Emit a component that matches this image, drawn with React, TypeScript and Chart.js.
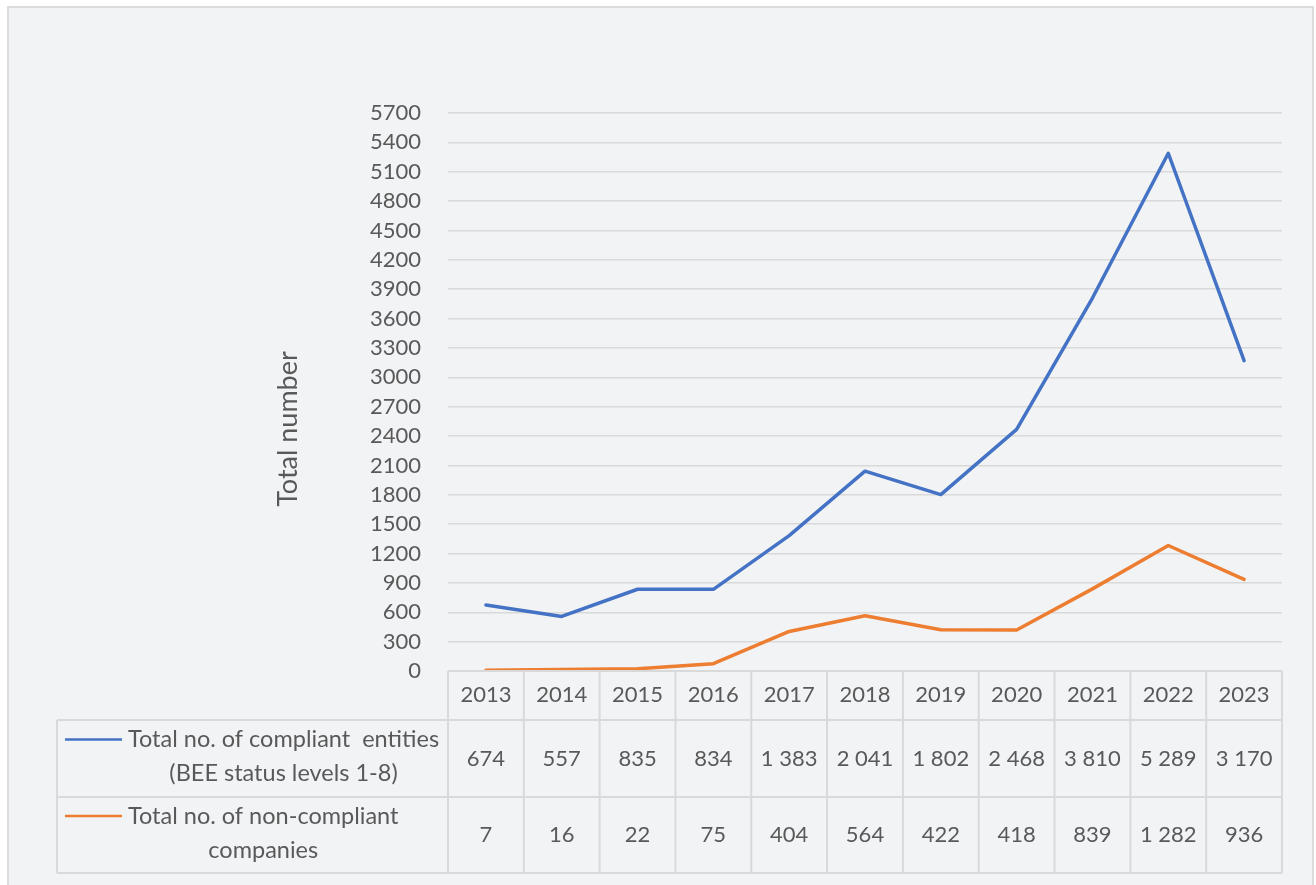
import React, { useEffect, useRef } from "react";
import { Chart, registerables } from "chart.js";

Chart.register(...registerables);

const categories = ["2013", "2014", "2015", "2016", "2017", "2018", "2019", "2020", "2021", "2022", "2023"];
const compliant = [674, 557, 835, 834, 1383, 2041, 1802, 2468, 3810, 5289, 3170];
const nonCompliant = [7, 16, 22, 75, 404, 564, 422, 418, 839, 1282, 936];
const compliantLabel = ["Total no. of compliant  entities", "(BEE status levels 1-8)"];
const nonCompliantLabel = ["Total no. of non-compliant", "companies"];
const yTitle = "Total number";
const yMax = 5700;
const yStep = 300;

const BLUE = "#4472c4";
const ORANGE = "#ed7d31";
const TEXT = "#595959";
const GRID = "#d9d9d9";
const FONT = "Lato";
const FS = 22;
const LEG_FS = 23.5;
const TITLE_FS = 27;

const fmt = (v: number) => String(v).replace(/\B(?=(\d{3})+(?!\d))/g, " ");

const tablePlugin = {
  id: "tablePlugin",
  beforeDraw(chart: any) {
    const { ctx, width, height } = chart;
    ctx.save();
    ctx.fillStyle = "#ffffff";
    ctx.fillRect(0, 0, width, height);
    ctx.fillStyle = "#f2f3f5";
    ctx.fillRect(8, 7, 1305, 900);
    ctx.strokeStyle = "#dcdcdc";
    ctx.lineWidth = 2;
    ctx.strokeRect(8, 7, 1305, 900);
    ctx.restore();
  },
  afterDraw(chart: any) {
    const { ctx, chartArea } = chart;
    const x = chart.scales.x;
    const n = categories.length;
    const w = (chartArea.right - chartArea.left) / n;
    const top = chartArea.bottom;
    const r1 = top + 49;
    const r2 = r1 + 77;
    const r3 = r2 + 76;
    const legLeft = 57;
    ctx.save();
    ctx.strokeStyle = GRID;
    ctx.lineWidth = 2;
    ctx.beginPath();
    ctx.moveTo(chartArea.left, top);
    ctx.lineTo(chartArea.right, top);
    for (const yy of [r1, r2, r3]) {
      ctx.moveTo(legLeft, yy);
      ctx.lineTo(chartArea.right, yy);
    }
    for (let i = 0; i <= n; i++) {
      const xx = i < n ? x.getPixelForValue(i) - w / 2 : x.getPixelForValue(n - 1) + w / 2;
      ctx.moveTo(xx, top);
      ctx.lineTo(xx, r3);
    }
    ctx.moveTo(legLeft, r1);
    ctx.lineTo(legLeft, r3);
    ctx.stroke();

    ctx.fillStyle = TEXT;
    ctx.textAlign = "center";
    ctx.textBaseline = "middle";
    const rows = [
      { data: compliant, y: (r1 + r2) / 2, label: compliantLabel, color: BLUE },
      { data: nonCompliant, y: (r2 + r3) / 2, label: nonCompliantLabel, color: ORANGE },
    ];
    rows.forEach((row) => {
      ctx.font = `${FS}px ${FONT}`;
      row.data.forEach((v, i) => {
        ctx.fillText(fmt(v), x.getPixelForValue(i), row.y);
      });
      const l1 = row.y - 19;
      const l2 = row.y + 15;
      ctx.strokeStyle = row.color;
      ctx.lineWidth = 2.5;
      ctx.beginPath();
      ctx.moveTo(65, l1);
      ctx.lineTo(122, l1);
      ctx.stroke();
      ctx.font = `${LEG_FS}px ${FONT}`;
      const mw = Math.max(...row.label.map((s) => ctx.measureText(s).width));
      const cx = 128 + mw / 2;
      ctx.fillText(row.label[0], cx, l1);
      ctx.fillText(row.label[1], cx, l2);
    });

    ctx.font = `${TITLE_FS}px ${FONT}`;
    ctx.translate(288, 429);
    ctx.rotate(-Math.PI / 2);
    ctx.fillText(yTitle, 0, 0);
    ctx.restore();
  },
};

export default function App() {
  const ref = useRef<HTMLCanvasElement>(null);
  useEffect(() => {
    if (!ref.current) return;
    const chart = new Chart(ref.current, {
      type: "line",
      data: {
        labels: categories,
        datasets: [
          {
            label: compliantLabel.join(" "),
            data: compliant,
            borderColor: BLUE,
            backgroundColor: BLUE,
            borderWidth: 3.5,
            pointRadius: 0,
            tension: 0,
            borderCapStyle: "round",
            borderJoinStyle: "round",
          },
          {
            label: nonCompliantLabel.join(" "),
            data: nonCompliant,
            borderColor: ORANGE,
            backgroundColor: ORANGE,
            borderWidth: 3.5,
            pointRadius: 0,
            tension: 0,
            borderCapStyle: "round",
            borderJoinStyle: "round",
          },
        ],
      },
      options: {
        responsive: false,
        animation: false,
        devicePixelRatio: 1,
        layout: { padding: { left: 0, right: 34, top: 113, bottom: 12 } },
        plugins: { legend: { display: false }, tooltip: { enabled: false } },
        scales: {
          x: {
            offset: true,
            grid: { display: false, drawTicks: false },
            border: { display: false },
            ticks: { color: TEXT, font: { family: FONT, size: FS }, padding: 11, maxRotation: 0, autoSkip: false },
            afterFit: (s: any) => {
              s.height = 202;
            },
          },
          y: {
            min: 0,
            max: yMax,
            grid: { color: GRID, lineWidth: 1.5, drawTicks: false },
            border: { display: false },
            ticks: {
              stepSize: yStep,
              autoSkip: false,
              color: TEXT,
              font: { family: FONT, size: FS },
              padding: 27,
              callback: (v: any) => String(v),
            },
            afterFit: (s: any) => {
              s.width = 448;
            },
          },
        },
      },
      plugins: [tablePlugin],
    });
    return () => chart.destroy();
  }, []);
  return (
    <div style={{ position: "absolute", left: 0, top: 0, width: 1316, height: 885 }}>
      <canvas ref={ref} width={1316} height={885} style={{ display: "block" }} />
    </div>
  );
}
